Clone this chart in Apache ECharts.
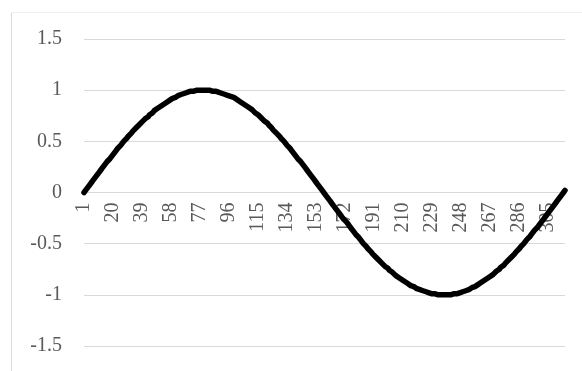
<!DOCTYPE html>
<html>
<head>
<meta charset="utf-8">
<script src="https://cdn.jsdelivr.net/npm/echarts@6/dist/echarts.min.js"></script>
<style>
  html, body { margin: 0; padding: 0; background: #ffffff; }
  #chart { width: 582px; height: 371px; }
</style>
</head>
<body>
<div id="chart"></div>
<script>
// One period of the wave, sampled at 316 points
const values = [
  0.00, 0.02, 0.04, 0.06, 0.08, 0.10, 0.12, 0.14, 0.16, 0.18,
  0.20, 0.22, 0.24, 0.26, 0.28, 0.30, 0.31, 0.33, 0.35, 0.37,
  0.39, 0.41, 0.43, 0.44, 0.46, 0.48, 0.50, 0.51, 0.53, 0.55,
  0.56, 0.58, 0.60, 0.61, 0.63, 0.64, 0.66, 0.67, 0.69, 0.70,
  0.72, 0.73, 0.74, 0.76, 0.77, 0.78, 0.80, 0.81, 0.82, 0.83,
  0.84, 0.85, 0.86, 0.87, 0.88, 0.89, 0.90, 0.91, 0.92, 0.92,
  0.93, 0.94, 0.95, 0.95, 0.96, 0.96, 0.97, 0.97, 0.98, 0.98,
  0.99, 0.99, 0.99, 0.99, 1.00, 1.00, 1.00, 1.00, 1.00, 1.00,
  1.00, 1.00, 1.00, 1.00, 0.99, 0.99, 0.99, 0.99, 0.98, 0.98,
  0.97, 0.97, 0.96, 0.96, 0.95, 0.95, 0.94, 0.93, 0.93, 0.92,
  0.91, 0.90, 0.89, 0.88, 0.87, 0.86, 0.85, 0.84, 0.83, 0.82,
  0.81, 0.80, 0.78, 0.77, 0.76, 0.75, 0.73, 0.72, 0.70, 0.69,
  0.68, 0.66, 0.65, 0.63, 0.61, 0.60, 0.58, 0.57, 0.55, 0.53,
  0.52, 0.50, 0.48, 0.46, 0.45, 0.43, 0.41, 0.39, 0.37, 0.35,
  0.33, 0.32, 0.30, 0.28, 0.26, 0.24, 0.22, 0.20, 0.18, 0.16,
  0.14, 0.12, 0.10, 0.08, 0.06, 0.04, 0.02, 0.00, -0.02, -0.04,
  -0.06, -0.08, -0.10, -0.12, -0.14, -0.16, -0.18, -0.20, -0.22, -0.24,
  -0.26, -0.27, -0.29, -0.31, -0.33, -0.35, -0.37, -0.39, -0.41, -0.42,
  -0.44, -0.46, -0.48, -0.50, -0.51, -0.53, -0.55, -0.56, -0.58, -0.60,
  -0.61, -0.63, -0.64, -0.66, -0.67, -0.69, -0.70, -0.72, -0.73, -0.74,
  -0.76, -0.77, -0.78, -0.79, -0.81, -0.82, -0.83, -0.84, -0.85, -0.86,
  -0.87, -0.88, -0.89, -0.90, -0.91, -0.92, -0.92, -0.93, -0.94, -0.95,
  -0.95, -0.96, -0.96, -0.97, -0.97, -0.98, -0.98, -0.99, -0.99, -0.99,
  -0.99, -1.00, -1.00, -1.00, -1.00, -1.00, -1.00, -1.00, -1.00, -1.00,
  -1.00, -0.99, -0.99, -0.99, -0.99, -0.98, -0.98, -0.97, -0.97, -0.96,
  -0.96, -0.95, -0.95, -0.94, -0.93, -0.93, -0.92, -0.91, -0.90, -0.89,
  -0.88, -0.87, -0.86, -0.85, -0.84, -0.83, -0.82, -0.81, -0.80, -0.79,
  -0.77, -0.76, -0.75, -0.73, -0.72, -0.71, -0.69, -0.68, -0.66, -0.65,
  -0.63, -0.62, -0.60, -0.58, -0.57, -0.55, -0.53, -0.52, -0.50, -0.48,
  -0.46, -0.45, -0.43, -0.41, -0.39, -0.37, -0.36, -0.34, -0.32, -0.30,
  -0.28, -0.26, -0.24, -0.22, -0.20, -0.18, -0.16, -0.14, -0.12, -0.10,
  -0.08, -0.06, -0.04, -0.02, 0.00, 0.02
];

// Category labels are the 1-based sample numbers
const categories = values.map((_, i) => String(i + 1));

// Value-axis range and step
const yMin = -1.5;
const yMax = 1.5;
const yStep = 0.5;

const labelFont = "'Liberation Serif', 'DejaVu Serif', serif";
const labelColor = '#595959';
const gridColor = '#d9d9d9';

// Plot box
const gridTop = 39;
const gridBottom = 25;
const chartHeight = 371;
const plotHeight = chartHeight - gridTop - gridBottom;
// Shift the category axis up from the bottom edge to the value 0
const zeroOffset = -plotHeight * (0 - yMin) / (yMax - yMin);

const chart = echarts.init(document.getElementById('chart'), null, { renderer: 'canvas' });

chart.setOption({
  animation: false,
  backgroundColor: '#ffffff',
  graphic: [
    {
      type: 'line',
      shape: { x1: 11.5, y1: 12, x2: 11.5, y2: 371 },
      style: { stroke: '#d9d9d9', lineWidth: 1 },
      silent: true
    },
    {
      type: 'line',
      shape: { x1: 11, y1: 12.5, x2: 582, y2: 12.5 },
      style: { stroke: '#f0f0f0', lineWidth: 1 },
      silent: true
    }
  ],
  grid: {
    left: 84, right: 17, top: gridTop, bottom: gridBottom,
    containLabel: false,
    outerBoundsMode: 'none'
  },
  xAxis: {
    type: 'category',
    data: categories,
    boundaryGap: false,
    position: 'bottom',
    offset: zeroOffset,
    axisLine: { show: true, onZero: false, lineStyle: { color: gridColor, width: 1 } },
    axisTick: { show: false },
    splitLine: { show: false },
    axisLabel: {
      interval: 18,
      rotate: 90,
      margin: 10,
      color: labelColor,
      fontFamily: labelFont,
      fontSize: 20
    }
  },
  yAxis: {
    type: 'value',
    min: yMin,
    max: yMax,
    interval: yStep,
    axisLine: { show: false },
    axisTick: { show: false },
    splitLine: { show: true, lineStyle: { color: gridColor, width: 1 } },
    axisLabel: {
      margin: 22,
      color: labelColor,
      fontFamily: labelFont,
      fontSize: 20,
      formatter: v => String(Math.round(v * 10) / 10)
    }
  },
  series: [
    {
      type: 'line',
      data: values,
      showSymbol: false,
      smooth: false,
      lineStyle: { color: '#000000', width: 5.5, cap: 'round', join: 'round' },
      z: 3
    }
  ]
});
</script>
</body>
</html>
